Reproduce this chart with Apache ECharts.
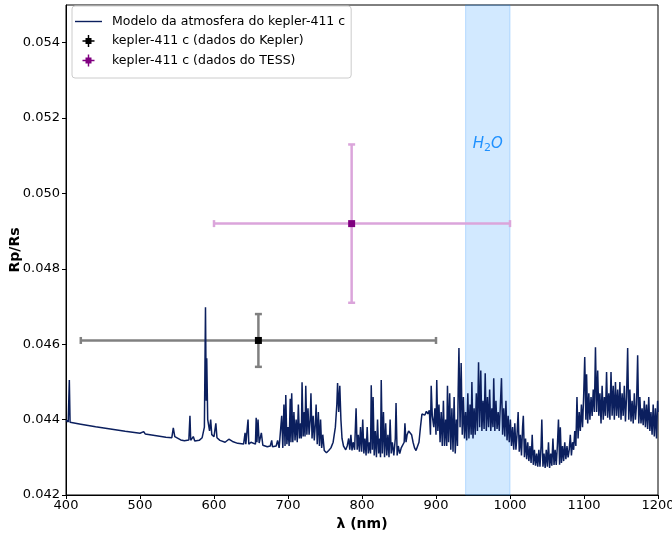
<!DOCTYPE html>
<html>
<head>
<meta charset="utf-8">
<script src="https://cdn.jsdelivr.net/npm/echarts@6/dist/echarts.min.js"></script>
<style>
  html, body { margin: 0; padding: 0; background: #fff; }
  #chart { width: 672px; height: 533px; }
</style>
</head>
<body>
<div id="chart"></div>
<script>
// model spectrum [wavelength nm, Rp/Rs]
const modelSpectrum = [
  [400,0.04398],[403,0.04394],[404.5,0.04505],[405.5,0.04393],[420,0.04388],[440,0.04381],[460,0.04375],
  [480,0.04369],[500,0.04364],[505,0.04368],[507,0.04362],[520,0.04358],[535,0.04353],[543,0.04352],
  [545,0.04378],[547,0.04355],[549,0.04350],[555,0.04346],[560,0.04344],[566,0.04346],[567.5,0.04410],
  [568.5,0.04345],[572,0.04355],[574,0.04343],[580,0.04345],[584,0.04352],[587,0.04380],[588.5,0.04698],
  [589.5,0.04450],[590.2,0.04563],[591.5,0.04400],[594,0.04370],[595.5,0.04400],[597,0.04360],[600,0.04355],
  [602.5,0.04390],[604,0.04352],[608,0.04345],[615,0.04340],[620,0.04348],[625,0.04342],[632,0.04337],
  [640,0.04335],[642,0.04365],[643,0.04335],[646,0.04400],[647,0.04335],[650,0.04340],[656,0.04335],
  [657,0.04405],[658,0.04340],[659.5,0.04400],[661,0.04338],[664,0.04365],[666,0.04332],[672,0.04328],
  [676,0.04330],[678,0.04345],[679,0.04328],[684,0.04330],[686,0.04345],[688,0.04325],
  [690,0.04330],[691.5,0.04410],[693,0.04325],[694.5,0.04440],[696,0.04330],[697,0.04465],[698.5,0.04335],
  [700,0.04380],[701.5,0.04330],[703,0.04455],[704,0.04340],[705,0.04470],[706.5,0.04340],[708,0.04420],
  [709.5,0.04345],[711,0.04400],[712.5,0.04340],[714,0.04440],[715.5,0.04350],[717,0.04390],[718,0.04350],
  [719,0.04499],[720.5,0.04355],[722,0.04420],[723,0.04355],[724,0.04490],[725.5,0.04360],[727,0.04430],
  [728.5,0.04360],[730,0.04400],[731,0.04470],[732.5,0.04350],[734,0.04410],[735.5,0.04345],[737,0.04390],
  [738,0.04440],[739.5,0.04335],[741,0.04420],[742.5,0.04330],[744,0.04400],[745.5,0.04325],[747,0.04360],
  [749,0.04318],[752,0.04312],[755,0.04318],[758,0.04325],[761,0.04340],[764,0.04380],[766,0.04440],
  [767,0.04497],[768.5,0.04420],[770,0.04490],[771.5,0.04400],[773,0.04350],[775,0.04330],[778,0.04320],
  [780,0.04330],[782,0.04350],[783.5,0.04320],[785,0.04360],[786.5,0.04318],[788,0.04340],[790,0.04320],
  [792,0.04430],[793.5,0.04320],[795,0.04360],[796.5,0.04315],[798,0.04380],[799.5,0.04315],[801,0.04400],
  [802.5,0.04310],[804,0.04350],[805.5,0.04305],[807,0.04380],[808.5,0.04310],[810,0.04340],[811.5,0.04310],
  [812.5,0.04491],[814,0.04320],[815,0.04460],[816.5,0.04305],[818,0.04370],[819.5,0.04300],[821,0.04400],
  [822.5,0.04310],[824,0.04350],[825,0.04300],[826,0.04505],[827.5,0.04310],[829,0.04420],[830.5,0.04300],
  [832,0.04390],[833.5,0.04305],[835,0.04360],[836.5,0.04300],[838,0.04400],[839.5,0.04310],[841,0.04340],
  [843,0.04305],[845,0.04350],[846,0.04444],[847.5,0.04305],[849,0.04330],[851,0.04310],[853,0.04325],
  [855,0.04320],[857,0.04340],[858,0.04390],[859.5,0.04340],[861,0.04360],[863,0.04370],[865,0.04372],
  [867,0.04360],[869,0.04340],[871,0.04325],[873,0.04318],[875,0.04320],[877,0.04340],[879,0.04380],
  [881,0.04415],[883,0.04420],[885,0.04412],[887,0.04422],[889,0.04415],[891,0.04425],[892.5,0.04360],
  [893.5,0.04490],[895,0.04410],[897,0.04380],[898.5,0.04430],[900,0.04360],[901,0.04505],[902.5,0.04370],
  [904,0.04440],[905.5,0.04340],[907,0.04420],[908.5,0.04330],[910,0.04450],[911.5,0.04330],[913,0.04400],
  [914.5,0.04330],[915.5,0.04490],[917,0.04340],[918.5,0.04470],[920,0.04320],[921.5,0.04430],[923,0.04315],
  [924.5,0.04460],[926,0.04310],[927.5,0.04400],[929,0.04330],[930,0.04480],[931,0.04590],[932.5,0.04380],
  [934,0.04550],[935.5,0.04360],[937,0.04460],[938.5,0.04350],[940,0.04420],[941.5,0.04345],[943,0.04470],
  [944.5,0.04350],[946,0.04440],[947.5,0.04360],[948.5,0.04500],[950,0.04350],[951.5,0.04430],[953,0.04360],
  [954.5,0.04470],[956,0.04370],[957.5,0.04552],[959,0.04380],[960.5,0.04530],[962,0.04370],[963.5,0.04450],
  [965,0.04375],[966.5,0.04523],[968,0.04370],[969.5,0.04460],[971,0.04380],[972.5,0.04480],[974,0.04370],
  [975.5,0.04430],[977,0.04380],[978,0.04510],[979.5,0.04370],[981,0.04450],[982.5,0.04375],[984,0.04420],
  [985.5,0.04370],[987,0.04440],[988.5,0.04510],[990,0.04360],[991.5,0.04430],[993,0.04355],[994.5,0.04450],
  [996,0.04345],[997.5,0.04410],[999,0.04340],[1000.5,0.04400],[1002,0.04330],[1003.5,0.04380],[1005,0.04320],
  [1006.5,0.04390],[1008,0.04320],[1009.5,0.04360],[1011,0.04420],[1012.5,0.04315],[1014,0.04360],
  [1015.5,0.04305],[1017,0.04380],[1018,0.04410],[1019.5,0.04300],[1021,0.04350],[1022.5,0.04295],
  [1024,0.04340],[1025.5,0.04290],[1027,0.04330],[1028.5,0.04285],[1030,0.04360],[1031.5,0.04280],
  [1033,0.04320],[1034.5,0.04278],[1036,0.04310],[1037.5,0.04275],[1039,0.04320],[1040.5,0.04275],
  [1042,0.04330],[1043,0.04400],[1044.5,0.04275],[1046,0.04310],[1047.5,0.04272],[1049,0.04320],
  [1050.5,0.04275],[1052,0.04340],[1053.5,0.04272],[1055,0.04310],[1056.5,0.04278],[1058,0.04350],
  [1059.5,0.04280],[1061,0.04320],[1062.5,0.04280],[1064,0.04330],[1065.5,0.04400],[1067,0.04280],
  [1068,0.04380],[1069.5,0.04285],[1071,0.04330],[1072.5,0.04290],[1074,0.04340],[1075.5,0.04295],
  [1077,0.04330],[1078.5,0.04300],[1080,0.04320],[1081.5,0.04360],[1083,0.04305],[1084.5,0.04340],
  [1086,0.04320],[1087.5,0.04370],[1089,0.04330],[1090.5,0.04460],[1092,0.04350],[1093.5,0.04420],
  [1095,0.04370],[1096.5,0.04440],[1098,0.04380],[1099.5,0.04460],[1101,0.04566],[1102.5,0.04400],
  [1103.5,0.04520],[1105,0.04390],[1106.5,0.04470],[1108,0.04400],[1109.5,0.04460],[1111,0.04410],
  [1112.5,0.04480],[1114,0.04420],[1115.5,0.04592],[1117,0.04420],[1118.5,0.04530],[1120,0.04410],
  [1121.5,0.04470],[1123,0.04390],[1124.5,0.04490],[1126,0.04400],[1127.5,0.04460],[1129,0.04410],
  [1130.5,0.04526],[1132,0.04405],[1133.5,0.04470],[1135,0.04400],[1136.5,0.04526],[1138,0.04410],
  [1139.5,0.04490],[1141,0.04400],[1142.5,0.04500],[1144,0.04410],[1145.5,0.04480],[1147,0.04405],
  [1148.5,0.04500],[1150,0.04400],[1151.5,0.04470],[1153,0.04410],[1154.5,0.04490],[1156,0.04395],
  [1157.5,0.04460],[1159,0.04590],[1160.5,0.04400],[1162,0.04480],[1163.5,0.04395],[1165,0.04450],
  [1166.5,0.04390],[1168,0.04470],[1169.5,0.04400],[1171,0.04440],[1172.5,0.04571],[1174,0.04390],
  [1175.5,0.04460],[1177,0.04390],[1178.5,0.04430],[1180,0.04385],[1181.5,0.04450],[1183,0.04380],
  [1184.5,0.04440],[1186,0.04375],[1187.5,0.04460],[1189,0.04370],[1190.5,0.04420],[1192,0.04360],
  [1193.5,0.04440],[1195,0.04355],[1196.5,0.04430],[1198,0.04350],[1199.5,0.04450],[1200,0.04420]
]

// measurements: [x, y, xLow, xHigh, yLow, yHigh]
const keplerPoint = [[660, 0.0461, 420, 900, 0.0454, 0.0468]]
const tessPoint = [[786, 0.0492, 600, 1000, 0.0471, 0.0513]]

const h2oBand = [940, 1000]
const xTicks = [400, 1200, 100]
const yTicks = [0.042, 0.055, 0.002]

const legendNames = [
  'Modelo da atmosfera do kepler-411 c',
  'kepler-411 c (dados do Kepler)',
  'kepler-411 c (dados do TESS)'
]

const chart = echarts.init(document.getElementById('chart'))

const errorBarRenderer = (barColor, markColor) => (params, api) => {
  const c = api.coord([api.value(0), api.value(1)])
  const xl = api.coord([api.value(2), api.value(1)])
  const xh = api.coord([api.value(3), api.value(1)])
  const yl = api.coord([api.value(0), api.value(4)])
  const yh = api.coord([api.value(0), api.value(5)])
  const cap = 3.5
  const line = (x1, y1, x2, y2) => ({
    type: 'line',
    shape: { x1, y1, x2, y2 },
    style: { stroke: barColor, lineWidth: 2.5 }
  })
  return {
    type: 'group',
    children: [
      line(xl[0], c[1], xh[0], c[1]),
      line(xl[0], c[1] - cap, xl[0], c[1] + cap),
      line(xh[0], c[1] - cap, xh[0], c[1] + cap),
      line(c[0], yl[1], c[0], yh[1]),
      line(c[0] - cap, yl[1], c[0] + cap, yl[1]),
      line(c[0] - cap, yh[1], c[0] + cap, yh[1]),
      {
        type: 'rect',
        shape: { x: c[0] - 3.5, y: c[1] - 3.5, width: 7, height: 7 },
        style: { fill: markColor }
      }
    ]
  }
}

const errIcon = 'path://M0,4.4 H10 V5.6 H0 Z M4.4,0 H5.6 V10 H4.4 Z M2.5,2.5 H7.5 V7.5 H2.5 Z'
const lineIcon = 'path://M0,0 H27 V1.4 H0 Z'

const option = {
  animation: false,
  backgroundColor: '#fff',
  textStyle: { fontFamily: 'DejaVu Sans' },
  grid: {
    left: 66, right: 14, top: 5, bottom: 38,
    outerBoundsMode: 'none',
    containLabel: false,
    show: true, borderColor: '#000', borderWidth: 1
  },
  legend: {
    orient: 'vertical',
    left: 72,
    top: 6,
    padding: [9, 6, 11, 3],
    itemGap: 6.5,
    itemWidth: 27,
    itemHeight: 12,
    borderColor: '#cccccc',
    borderWidth: 1,
    borderRadius: 3,
    backgroundColor: 'rgba(255,255,255,0.85)',
    textStyle: { fontSize: 12.5, color: '#000', fontFamily: 'DejaVu Sans', padding: [0, 0, 0, 5] },
    data: [
      { name: legendNames[0], icon: lineIcon },
      { name: legendNames[1], icon: errIcon },
      { name: legendNames[2], icon: errIcon }
    ]
  },
  xAxis: {
    type: 'value',
    min: xTicks[0],
    max: xTicks[1],
    interval: xTicks[2],
    name: 'λ (nm)',
    nameLocation: 'middle',
    nameGap: 22,
    nameMoveOverlap: false,
    nameTextStyle: { fontSize: 14, fontWeight: 'bold', color: '#000' },
    axisLine: { lineStyle: { color: '#000' } },
    axisTick: { lineStyle: { color: '#000' }, length: 4 },
    axisLabel: { fontSize: 13, color: '#000', margin: 4, formatter: v => String(v) },
    splitLine: { show: false }
  },
  yAxis: {
    type: 'value',
    min: yTicks[0],
    max: yTicks[1],
    interval: yTicks[2],
    name: 'Rp/Rs',
    nameLocation: 'middle',
    nameGap: 44,
    nameMoveOverlap: false,
    nameTextStyle: { fontSize: 14, fontWeight: 'bold', color: '#000' },
    axisLine: { show: true, lineStyle: { color: '#000' } },
    axisTick: { show: true, lineStyle: { color: '#000' }, length: 4 },
    axisLabel: {
      fontSize: 13,
      color: '#000',
      margin: 6,
      showMaxLabel: false,
      formatter: v => v.toFixed(3)
    },
    splitLine: { show: false }
  },
  series: [
    {
      name: 'band',
      type: 'line',
      data: [],
      z: 1,
      markArea: {
        silent: true,
        itemStyle: { color: 'rgba(30,144,255,0.2)', borderColor: 'rgba(30,144,255,0.25)', borderWidth: 1 },
        label: {
          show: true,
          position: 'insideTop',
          distance: 130,
          formatter: '{i|H}{s|2}{i|O}',
          rich: {
            i: { fontSize: 15, fontStyle: 'italic', color: '#1e90ff', fontFamily: 'DejaVu Sans' },
            s: { fontSize: 11, color: '#1e90ff', fontFamily: 'DejaVu Sans', padding: [8, 0, 0, 0] }
          }
        },
        data: [[{ xAxis: h2oBand[0] }, { xAxis: h2oBand[1] }]]
      }
    },
    {
      name: legendNames[1],
      type: 'custom',
      z: 2,
      itemStyle: { color: '#000' },
      renderItem: errorBarRenderer('#808080', '#000'),
      encode: { x: 0, y: 1 },
      data: keplerPoint
    },
    {
      name: legendNames[2],
      type: 'custom',
      z: 2,
      itemStyle: { color: '#800080' },
      renderItem: errorBarRenderer('#dba5db', '#800080'),
      encode: { x: 0, y: 1 },
      data: tessPoint
    },
    {
      name: legendNames[0],
      type: 'line',
      z: 3,
      symbol: 'none',
      sampling: false,
      lineStyle: { color: '#0b1f5e', width: 1.5 },
      itemStyle: { color: '#0b1f5e' },
      data: modelSpectrum
    }
  ]
}

chart.setOption(option)
</script>
</body>
</html>
